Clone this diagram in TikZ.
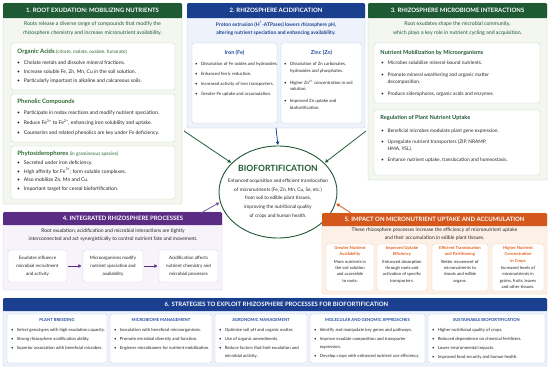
\documentclass[tikz,border=0pt]{standalone}
\usepackage{fontspec}
\setmainfont{Lato}
\usetikzlibrary{shapes.geometric,arrows.meta}

\definecolor{grnhd}{HTML}{1E5A34}
\definecolor{grnbg}{HTML}{F3F7EF}
\definecolor{grnln}{HTML}{BCD5B0}
\definecolor{grntx}{HTML}{2C6B30}
\definecolor{bluhd}{HTML}{1B3F8F}
\definecolor{blubg}{HTML}{EEF3FB}
\definecolor{bluln}{HTML}{B8C9E8}
\definecolor{blutx}{HTML}{1F4A9E}
\definecolor{purhd}{HTML}{5B2C83}
\definecolor{purbg}{HTML}{F7F3FA}
\definecolor{purln}{HTML}{D6C9E6}
\definecolor{orghd}{HTML}{D4571C}
\definecolor{orgbg}{HTML}{FDF1E7}
\definecolor{orgln}{HTML}{F2CBAA}
\definecolor{orgtx}{HTML}{E0621F}
\definecolor{ink}{HTML}{262626}

\newcommand{\bul}{\makebox[1.35em][l]{\textbullet}}
\newcommand{\cnt}{\hspace*{1.35em}}
\newcommand{\ot}[1]{\textcolor{orgtx}{\textbf{#1}}}

\begin{document}
\begin{tikzpicture}[x=0.5mm,y=-0.5mm,
  hd/.style={text=white,font=\bfseries\fontsize{8.5}{10}\selectfont},
  intro/.style={align=center,text=ink,font=\fontsize{7.4}{12.6}\selectfont},
  ttl/.style={anchor=west,font=\bfseries\fontsize{8.6}{10}\selectfont},
  blist/.style={anchor=north west,align=left,inner sep=0pt,text=ink},
  arr/.style={line width=1.1pt,-{Triangle[length=4.5pt,width=5pt]},shorten >=1pt}]
\useasboundingbox (0,0) rectangle (550,369);
\fill[white] (0,0) rectangle (550,369);

% 1. root exudation
\filldraw[fill=grnbg,draw=grnln,rounded corners=2pt] (3,3) rectangle (182,204);
\fill[grnhd,rounded corners=2pt] (3,3) rectangle (182,18);
\fill[grnhd] (3,11) rectangle (182,18);
\node[hd] (h1) at (92.5,10.5) {1. ROOT EXUDATION: MOBILIZING NUTRIENTS};
\node[intro,text=grnhd] (i1) at (92.5,28.8) {Roots release a diverse range of compounds that modify the\\rhizosphere chemistry and increase micronutrient availability.};
\filldraw[fill=white,draw=grnln,rounded corners=3pt] (11,43) rectangle (175,90);
\node[ttl,text=grntx] (oaT) at (15,52) {Organic Acids {\mdseries\fontsize{6.8}{8}\selectfont (citrate, malate, oxalate, fumarate)}};
\node[blist,font=\fontsize{7.2}{10.5}\selectfont] (oaL) at (17,60.5) {\bul Chelate metals and dissolve mineral fractions.\\[2.3pt]
\bul Increase soluble Fe, Zn, Mn, Cu in the soil solution.\\[2.3pt]
\bul Particularly important in alkaline and calcareous soils.};
\filldraw[fill=white,draw=grnln,rounded corners=3pt] (11,94) rectangle (175,142);
\node[ttl,text=grntx] (phT) at (15,102) {Phenolic Compounds};
\node[blist,font=\fontsize{7.2}{10.5}\selectfont] (phL) at (17,110.5) {\bul Participate in redox reactions and modify nutrient speciation.\\[4pt]
\bul Reduce Fe\textsuperscript{3+} to Fe\textsuperscript{2+}, enhancing iron solubility and uptake.\\[4pt]
\bul Coumarins and related phenolics are key under Fe deficiency.};
\filldraw[fill=white,draw=grnln,rounded corners=3pt] (11,146) rectangle (175,199);
\node[ttl,text=grntx] (psT) at (15,154) {Phytosiderophores {\mdseries\fontsize{6.8}{8}\selectfont (in gramineous species)}};
\node[blist,font=\fontsize{7.2}{10.5}\selectfont] (psL) at (17,160.5) {\bul Secreted under iron deficiency.\\[1.8pt]
\bul High affinity for Fe\textsuperscript{3+}; form soluble complexes.\\[1.8pt]
\bul Also mobilize Zn, Mn and Cu.\\[1.8pt]
\bul Important target for cereal biofortification.};

% 2. acidification
\filldraw[fill=blubg,draw=bluln,rounded corners=2pt] (187,3) rectangle (365,128);
\fill[bluhd,rounded corners=2pt] (187,3) rectangle (365,18);
\fill[bluhd] (187,11) rectangle (365,18);
\node[hd] (h2) at (276,10.5) {2. RHIZOSPHERE ACIDIFICATION};
\node[intro,text=bluhd,font=\bfseries\fontsize{7.1}{12.6}\selectfont] (i2) at (276,28.8) {Proton extrusion (H\textsuperscript{+}-ATPases) lowers rhizosphere pH,\\altering nutrient speciation and enhancing availability.};
\filldraw[fill=white,draw=bluln,rounded corners=3pt] (192,43) rectangle (277,123);
\node[font=\bfseries\fontsize{7.8}{9}\selectfont,text=blutx] (feT) at (234.5,53) {Iron (Fe)};
\node[blist,font=\fontsize{6.2}{9}\selectfont] (feL) at (195,62) {\bul Dissolution of Fe oxides and hydroxides.\\[5.5pt]
\bul Enhanced ferric reduction.\\[5.5pt]
\bul Increased activity of iron transporters.\\[5.5pt]
\bul Greater Fe uptake and accumulation.};
\filldraw[fill=white,draw=bluln,rounded corners=3pt] (281,43) rectangle (362,123);
\node[font=\bfseries\fontsize{7.8}{9}\selectfont,text=blutx] (znT) at (321.5,53) {Zinc (Zn)};
\node[blist,font=\fontsize{6.2}{9.8}\selectfont] (znL) at (284,62) {\bul Dissolution of Zn carbonates,\\\cnt hydroxides and phosphates.\\[7pt]
\bul Higher Zn\textsuperscript{2+} concentration in soil\\\cnt solution.\\[7pt]
\bul Improved Zn uptake and\\\cnt biofortification.};

% 3. microbiome
\filldraw[fill=grnbg,draw=grnln,rounded corners=2pt] (368,3) rectangle (547,180);
\fill[grnhd,rounded corners=2pt] (368,3) rectangle (547,18);
\fill[grnhd] (368,11) rectangle (547,18);
\node[hd] (h3) at (457.5,10.5) {3. RHIZOSPHERE MICROBIOME INTERACTIONS};
\node[intro,text=grnhd] (i3) at (457.5,28.8) {Root exudates shape the microbial community,\\which plays a key role in nutrient cycling and acquisition.};
\filldraw[fill=white,draw=grnln,rounded corners=3pt] (374,43) rectangle (540,103);
\node[ttl,text=grnhd,font=\bfseries\fontsize{8}{9}\selectfont] (nmT) at (378,53) {Nutrient Mobilization by Microorganisms};
\node[blist,font=\fontsize{6.9}{11.3}\selectfont] (nmL) at (381,60.5) {\bul Microbes solubilize mineral-bound nutrients.\\[5.5pt]
\bul Promote mineral weathering and organic matter\\\cnt decomposition.\\[4.5pt]
\bul Produce siderophores, organic acids and enzymes.};
\filldraw[fill=white,draw=grnln,rounded corners=3pt] (374,110) rectangle (540,175);
\node[ttl,text=grnhd,font=\bfseries\fontsize{8}{9}\selectfont] (rgT) at (378,118) {Regulation of Plant Nutrient Uptake};
\node[blist,font=\fontsize{6.9}{10}\selectfont] (rgL) at (381,128.5) {\bul Beneficial microbes modulate plant gene expression.\\[5.5pt]
\bul Upregulate nutrient transporters (ZIP, NRAMP,\\\cnt HMA, YSL).\\[5.5pt]
\bul Enhance nutrient uptake, translocation and homeostasis.};

% centre
\node[ellipse,draw=grnhd,line width=1.3pt,fill=white,minimum width=59mm,minimum height=46mm] (bio) at (278,192) {};
\node[font=\bfseries\fontsize{12.2}{14}\selectfont,text=grnhd] (bioT) at (278,168) {BIOFORTIFICATION};
\node[align=center,text=ink,font=\fontsize{6.8}{12.3}\selectfont] (bioL) at (278,198.5) {Enhanced acquisition and efficient translocation\\of micronutrients (Fe, Zn, Mn, Cu, Se, etc.)\\from soil to edible plant tissues,\\improving the nutritional quality\\of crops and human health.};

% 4. integrated
\filldraw[fill=purbg,draw=purln,rounded corners=2pt] (3,212) rectangle (222,290);
\fill[purhd,rounded corners=2pt] (3,212) rectangle (222,225);
\fill[purhd] (3,219) rectangle (222,225);
\node[hd] (h4) at (123,218.5) {4. INTEGRATED RHIZOSPHERE PROCESSES};
\node[intro,font=\fontsize{7.1}{11.3}\selectfont] (i4) at (113,235) {Root exudation, acidification and microbial interactions are tightly\\interconnected and act synergistically to control nutrient fate and movement.};
\tikzset{pbox/.style={draw=purln,fill=white,rounded corners=3pt,align=center,text=ink,font=\fontsize{6.4}{11.3}\selectfont,minimum width=29.5mm,minimum height=16mm,inner sep=1pt}}
\node[pbox] (ia) at (37.5,266) {Exudates influence\\microbial recruitment\\and activity};
\node[pbox,minimum width=30mm] (ib) at (113,266) {Microorganisms modify\\nutrient speciation and\\availability};
\node[pbox] (ic) at (188.5,266) {Acidification affects\\nutrient chemistry and\\microbial processes};
\draw[arr,purhd,line width=1.3pt,shorten <=1pt,shorten >=2pt] (ia) -- (ib);
\draw[arr,purhd,line width=1.3pt,shorten <=1pt,shorten >=2pt] (ib) -- (ic);

% 5. impact
\filldraw[fill=orgbg,draw=orgln,rounded corners=2pt] (322,213) rectangle (547,294);
\fill[orghd,rounded corners=2pt] (322,213) rectangle (547,226);
\fill[orghd] (322,220) rectangle (547,226);
\node[hd] (h5) at (434.5,219.5) {5. IMPACT ON MICRONUTRIENT UPTAKE AND ACCUMULATION};
\node[intro,font=\fontsize{7.1}{11.3}\selectfont] (i5) at (434.5,234) {These rhizosphere processes increase the efficiency of micronutrient uptake\\and their accumulation in edible plant tissues.};
\tikzset{obox/.style={draw=orgln,fill=white,rounded corners=3pt},
  otext/.style={anchor=north,align=center,inner sep=0pt,text=ink,font=\fontsize{6}{8.8}\selectfont}}
\filldraw[obox] (326,244) rectangle (374,291);
\node[otext] (oa) at (350,246.5) {\ot{Greater Nutrient}\\\ot{Availability}\\[2pt]More nutrients in\\the soil solution\\and accessible\\to roots.};
\filldraw[obox] (377,244) rectangle (427,291);
\node[otext] (ob) at (402,246.5) {\ot{Improved Uptake}\\\ot{Efficiency}\\[2pt]Enhanced absorption\\through roots and\\activation of specific\\transporters.};
\filldraw[obox] (432,244) rectangle (488,291);
\node[otext] (oc) at (460,246.5) {\ot{Efficient Translocation}\\\ot{and Partitioning}\\[2pt]Better movement of\\micronutrients to\\shoots and edible\\organs.};
\filldraw[obox] (492,244) rectangle (544,291);
\node[otext] (od) at (518,246.5) {\ot{Higher Nutrient}\\\ot{Concentration}\\\ot{in Crops}\\[2pt]Increased levels of\\micronutrients in\\grains, fruits, leaves\\and other tissues.};

% arrows into the centre
\coordinate (p1out) at (184,131);
\coordinate (p3out) at (366,131);
\coordinate (p2out) at (276,128);
\coordinate (p4out) at (201,213);
\coordinate (p5out) at (351,213);
\draw[arr,grnhd] (p1out) -- (bio.148);
\draw[arr,grnhd] (p3out) -- (bio.32);
\draw[arr,bluhd] (p2out) -- (bio.north);
\draw[arr,purhd!80] (p4out) -- (bio.190);
\draw[arr,orghd] (p5out) -- (bio.349);

% 6. strategies
\filldraw[fill=blubg,draw=bluln,rounded corners=2pt] (3,298) rectangle (547,366);
\fill[bluhd,rounded corners=2pt] (3,298) rectangle (547,311);
\fill[bluhd] (3,305) rectangle (547,311);
\node[hd] (h6) at (276.5,304.5) {6. STRATEGIES TO EXPLOIT RHIZOSPHERE PROCESSES FOR BIOFORTIFICATION};
\tikzset{sbox/.style={draw=bluln,fill=white,rounded corners=3pt},
  stl/.style={text=blutx,font=\bfseries\fontsize{5.9}{7}\selectfont},
  slist/.style={blist,font=\fontsize{6.1}{11}\selectfont}}
\filldraw[sbox] (7,314) rectangle (107,363);
\node[stl] (s1) at (57,319.5) {PLANT BREEDING};
\node[slist] (s1L) at (11,328.5) {\bul Select genotypes with high exudation capacity.\\[1.5pt]
\bul Strong rhizosphere acidification ability.\\[1.5pt]
\bul Superior association with beneficial microbes.};
\filldraw[sbox] (110,314) rectangle (212,363);
\node[stl] (s2) at (161,319.5) {MICROBIOME MANAGEMENT};
\node[slist] (s2L) at (114,328.5) {\bul Inoculation with beneficial microorganisms.\\[1.5pt]
\bul Promote microbial diversity and function.\\[1.5pt]
\bul Engineer microbiomes for nutrient mobilization.};
\filldraw[sbox] (215,314) rectangle (307,363);
\node[stl] (s3) at (261,319.5) {AGRONOMIC MANAGEMENT};
\node[slist] (s3L) at (219,328.5) {\bul Optimize soil pH and organic matter.\\[1.5pt]
\bul Use of organic amendments.\\[1.5pt]
\bul Reduce factors that limit exudation and\\\cnt microbial activity.};
\filldraw[sbox] (310,314) rectangle (425,363);
\node[stl] (s4) at (367.5,319.5) {MOLECULAR AND GENOMIC APPROACHES};
\node[slist] (s4L) at (314,328.5) {\bul Identify and manipulate key genes and pathways.\\[1.5pt]
\bul Improve exudate composition and transporter\\\cnt expression.\\[1.5pt]
\bul Develop crops with enhanced nutrient use efficiency.};
\filldraw[sbox] (428,314) rectangle (545,363);
\node[stl] (s5) at (486.5,319.5) {SUSTAINABLE BIOFORTIFICATION};
\node[slist] (s5L) at (432,328.5) {\bul Higher nutritional quality of crops.\\[1.5pt]
\bul Reduced dependence on chemical fertilizers.\\[1.5pt]
\bul Lower environmental impacts.\\[1.5pt]
\bul Improved food security and human health.};
\end{tikzpicture}
\end{document}
